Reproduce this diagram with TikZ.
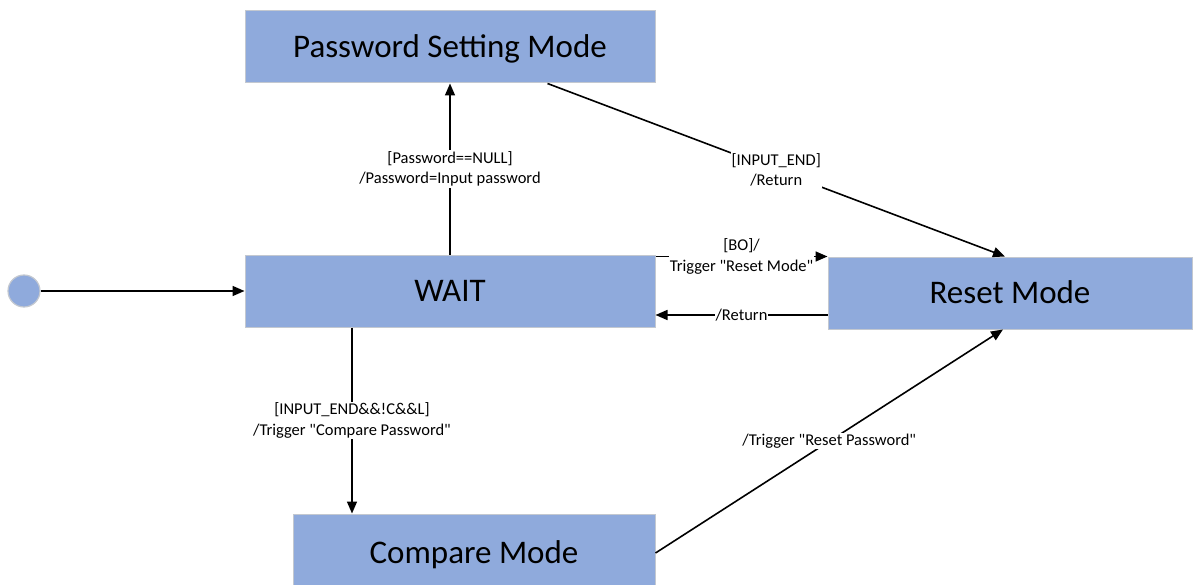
\documentclass[tikz,border=0pt]{standalone}
\usepackage{fontspec}
\setmainfont{Carlito}
\usetikzlibrary{arrows.meta,calc}
\definecolor{boxfill}{HTML}{8FAADC}
\definecolor{boxline}{HTML}{C3C8D0}
\newcommand{\dq}{\textquotedbl}
\begin{document}
\begin{tikzpicture}[x=1pt,y=-1pt,
  state/.style={rectangle,draw=boxline,line width=1pt,fill=boxfill,minimum height=72pt,inner sep=0pt,text height=21.2pt,text depth=0pt,font=\fontsize{33}{39}\selectfont},
  startdot/.style={circle,draw=boxline,line width=1.2pt,fill=boxfill,minimum size=32pt,inner sep=0pt},
  conn/.style={line width=1.6pt,-{Triangle[length=12pt,width=10pt]}},
  lbl/.style={fill=white,inner sep=1pt,align=center,font=\fontsize{16.5}{20.5}\selectfont}]
\useasboundingbox (0,0) rectangle (1198,585);
\node[state,minimum width=410pt] (psm) at (450,47) {Password Setting Mode};
\node[state,minimum width=410pt] (wait) at (450,291) {WAIT};
\node[state,minimum width=364pt] (reset) at (1010,293) {Reset Mode};
\node[state,minimum width=362pt,minimum height=78pt] (cmp) at (474,553) {Compare Mode};
\node[startdot] (init) at (24,291) {};
\draw[conn] (init) -- (init -| wait.west);
\draw[conn] (wait.north) -- node[lbl] {[Password==NULL]\\/Password=Input password} (psm.south);
\draw[conn] ([xshift=-108pt]psm.south east) -- node[lbl] {[INPUT\_END]\\/Return} ([xshift=-5pt]reset.north);
\draw[conn] (wait.east |- reset.north west) -- node[lbl] {[BO]/\\Trigger \dq Reset Mode\dq} (reset.north west);
\coordinate (r1) at ([yshift=-22pt]reset.west);
\draw[conn] (r1) -- node[lbl] {/Return} (wait.east |- r1);
\draw[conn] ([xshift=-98pt]wait.south) -- node[lbl] {[INPUT\_END\&\&!C\&\&L]\\/Trigger \dq Compare Password\dq} ([xshift=-98pt]wait.south |- cmp.north);
\draw[conn] (cmp.east) -- node[lbl] {/Trigger \dq Reset Password\dq} ([xshift=-7pt]reset.south);
\end{tikzpicture}
\end{document}
